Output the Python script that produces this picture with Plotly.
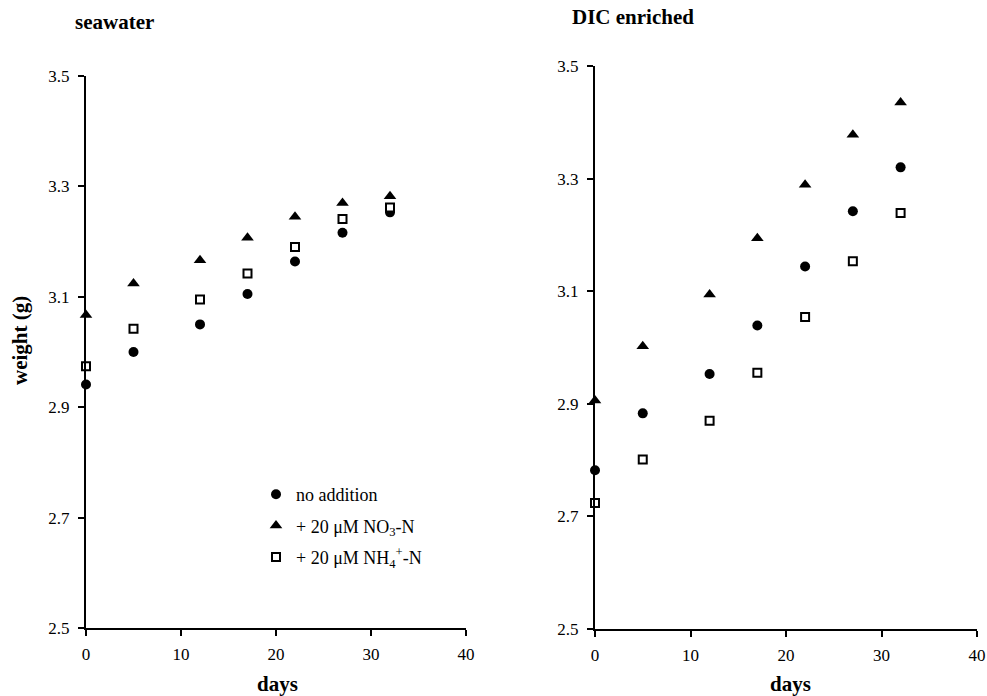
import plotly.graph_objects as go

days = [0, 5, 12, 17, 22, 27, 32]

sea_no_addition = [2.941, 3.000, 3.050, 3.105, 3.164, 3.216, 3.253]
sea_no3 = [3.067, 3.124, 3.166, 3.207, 3.245, 3.270, 3.282]
sea_nh4 = [2.974, 3.042, 3.095, 3.142, 3.190, 3.241, 3.262]

dic_no_addition = [2.782, 2.883, 2.953, 3.039, 3.144, 3.242, 3.320]
dic_no3 = [2.906, 3.002, 3.094, 3.194, 3.289, 3.378, 3.435]
dic_nh4 = [2.724, 2.801, 2.870, 2.955, 3.054, 3.153, 3.239]

series_names = ["no addition", "+ 20 μM NO<sub>3</sub>-N", "+ 20 μM NH<sub>4</sub><sup>+</sup>-N"]
x_ticks = [0, 10, 20, 30, 40]
y_ticks = [2.5, 2.7, 2.9, 3.1, 3.3, 3.5]

FONT = "Liberation Serif"

W, H = 987, 696


def px(x):
    return x / W


def py(y):
    return 1 - y / H


styles = [
    dict(symbol="circle", size=10, color="black", line=dict(width=0)),
    dict(symbol="triangle-up", size=11, color="black", line=dict(width=0)),
    dict(symbol="square", size=8, color="white", line=dict(width=2, color="black")),
]

fig = go.Figure()
panels = [
    ("x", "y", [sea_no_addition, sea_no3, sea_nh4], True),
    ("x2", "y2", [dic_no_addition, dic_no3, dic_nh4], False),
]
for xa, ya, vals, show in panels:
    for i, (name, v) in enumerate(zip(series_names, vals)):
        fig.add_trace(go.Scatter(
            x=days, y=v, mode="markers", name=name, marker=styles[i],
            xaxis=xa, yaxis=ya, showlegend=show, cliponaxis=False,
            legendgroup=f"g{i}",
        ))

axis_common = dict(
    showgrid=False, zeroline=False, showline=True, linecolor="black", linewidth=2,
    ticks="outside", ticklen=6, tickwidth=1.5, tickcolor="black", automargin=False,
    ticklabeloverflow="allow",
    tickfont=dict(family=FONT, size=17, color="black"),
)

fig.update_layout(
    width=W, height=H,
    margin=dict(l=0, r=0, t=0, b=0),
    paper_bgcolor="white", plot_bgcolor="white",
    font=dict(family=FONT, color="black"),
    xaxis=dict(domain=[px(86), px(466)], range=[0, 40], tickvals=x_ticks,
               anchor="y", ticklabelstandoff=4, **axis_common),
    yaxis=dict(domain=[py(628), py(76)], range=[2.5, 3.5], tickvals=y_ticks,
               ticktext=[f"{t:.1f}" for t in y_ticks], anchor="x", ticklabelstandoff=5, **axis_common),
    xaxis2=dict(domain=[px(595), px(977)], range=[0, 40], tickvals=x_ticks,
                anchor="y2", ticklabelstandoff=4, **axis_common),
    yaxis2=dict(domain=[py(629), py(66)], range=[2.5, 3.5], tickvals=y_ticks,
                ticktext=[f"{t:.1f}" for t in y_ticks], anchor="x2", ticklabelstandoff=5, **axis_common),
    legend=dict(x=px(256), y=py(476), xanchor="left", yanchor="top",
                font=dict(family=FONT, size=18, color="black"),
                bgcolor="rgba(0,0,0,0)", tracegroupgap=5, traceorder="grouped"),
)

ann_font = dict(family=FONT, size=21, color="black")
for text, x, y, angle in [
    ("<b>seawater</b>", 114, 22, 0),
    ("<b>DIC enriched</b>", 633, 17, 0),
    ("<b>days</b>", 277, 684, 0),
    ("<b>days</b>", 790, 684, 0),
    ("<b>weight (g)</b>", 20, 341, -90),
]:
    fig.add_annotation(text=text, x=px(x), y=py(y), xref="paper", yref="paper",
                       xanchor="center", yanchor="middle", showarrow=False,
                       textangle=angle, font=ann_font)

fig.write_html("out.html", config={"displayModeBar": False},
               post_script="document.body.style.margin='0px';")
